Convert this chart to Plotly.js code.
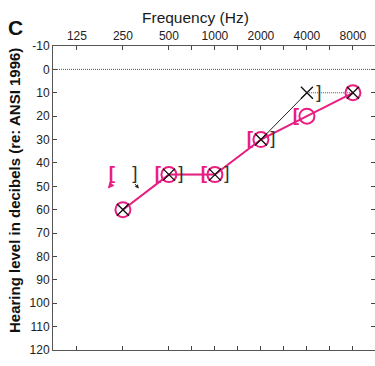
<!DOCTYPE html>
<html><head><meta charset="utf-8">
<script src="https://cdn.plot.ly/plotly-3.0.1.min.js"></script>
<style>html,body{margin:0;padding:0;background:#fff;}#chart{width:375px;height:366px;}</style>
</head><body><div id="chart"></div>
<script>
// Frequencies (octave index positions) and labels
const freqLabels = ['125','250','500','1000','2000','4000','8000'];
const freqIdx = [0,1,2,3,4,5,6];
const minorIdx = [2.5,3.5,4.5,5.5];
// Right ear air conduction (O)
const rightFreq = [1,2,3,4,5,6];
const rightAC = [60,45,45,30,20,10];
// Left ear air conduction (X)
const leftFreq = [1,2,3,4,5,6];
const leftAC = [60,45,45,30,10,10];
// Right ear masked bone conduction "["
const rightBoneFreq = [1,2,3,4,5];
const rightBone = [45,45,45,30,20];
// Left ear masked bone conduction "]"
const leftBoneFreq = [1,2,3,4,5];
const leftBone = [45,45,45,30,10];
// No-response flags (arrows) for bone conduction
const rightBoneNR = [true,false,false,false,false];
const leftBoneNR = [true,false,false,false,false];
const dbTicks = [-10,0,10,20,30,40,50,60,70,80,90,100,110,120];
const dbLabels = ['-10','0','10','20','30','40','50','60','70','80','90','100','110','120'];

const PINK = '#e91e80';
const FONT = 'Liberation Sans, Arial, sans-serif';
const bOffL = -0.24, bOffR = 0.26;

const traces = [
  {x: leftFreq.slice(0,5), y: leftAC.slice(0,5), mode:'lines', line:{color:'#222', width:1}, hoverinfo:'skip'},
  {x: leftFreq.slice(4), y: leftAC.slice(4), mode:'lines', line:{color:'#555', width:1, dash:'1px,1px'}, hoverinfo:'skip'},
  {x: rightFreq, y: rightAC, mode:'lines+markers', line:{color:PINK, width:2},
   marker:{symbol:'circle-open', size:15, color:PINK, line:{width:2, color:PINK}}},
  {x: leftFreq, y: leftAC, mode:'markers',
   marker:{symbol:'x-thin-open', size:12, color:'#111', line:{width:1.3, color:'#111'}}},
  {x: rightBoneFreq.map(f=>f+bOffL), y: rightBone, mode:'text', text: rightBone.map(()=>'<b>[</b>'),
   textfont:{family:FONT, size:19, color:PINK}, textposition:'middle center'},
  {x: leftBoneFreq.map(f=>f+bOffR), y: leftBone, mode:'text', text: leftBone.map(()=>']'),
   textfont:{family:FONT, size:19, color:'#333'}, textposition:'middle center'}
];

const annotations = [
  {text:'Frequency (Hz)', xref:'paper', yref:'paper', x:0.444, y:1.095, showarrow:false,
   xanchor:'center', yanchor:'middle', font:{family:FONT, size:15.5, color:'#1a1a1a'}},
  {text:'<b>C</b>', xref:'paper', yref:'paper', x:-0.118, y:1.06, showarrow:false,
   xanchor:'center', yanchor:'middle', font:{family:FONT, size:21, color:'#111'}},
  {text:'<b>Hearing level in decibels (re: ANSI 1996)</b>', xref:'paper', yref:'paper', x:-0.121, y:0.523,
   textangle:-90, showarrow:false, xanchor:'center', yanchor:'middle', font:{family:FONT, size:15, color:'#111'}}
];
rightBoneFreq.forEach((f,i)=>{ if(rightBoneNR[i]) annotations.push({x:f+bOffL, y:rightBone[i], xref:'x', yref:'y',
  xshift:-4, yshift:-14, ax:5, ay:-6, showarrow:true, arrowhead:2, arrowsize:0.8, arrowwidth:1.6, arrowcolor:PINK, text:''}); });
leftBoneFreq.forEach((f,i)=>{ if(leftBoneNR[i]) annotations.push({x:f+bOffR, y:leftBone[i], xref:'x', yref:'y',
  xshift:4, yshift:-14, ax:-5, ay:-6, showarrow:true, arrowhead:2, arrowsize:0.8, arrowwidth:1, arrowcolor:'#222', text:''}); });

const layout = {
  width:375, height:366, margin:{l:53, r:0, t:46, b:16},
  paper_bgcolor:'#fff', plot_bgcolor:'#fff', showlegend:false,
  font:{family:FONT, size:12, color:'#222'},
  xaxis:{range:[-0.52,6.48], side:'top', tickvals: freqIdx.concat(minorIdx),
    ticktext: freqLabels.concat(minorIdx.map(()=> '')), ticks:'inside', ticklen:4, tickcolor:'#444',
    showline:true, linecolor:'#555', linewidth:1, mirror:'allticks', showgrid:false, zeroline:false,
    tickfont:{family:FONT, size:12, color:'#222'}},
  yaxis:{range:[120,-10], tickvals: dbTicks, ticktext: dbLabels, ticks:'inside', ticklen:4, tickcolor:'#444',
    showline:true, linecolor:'#555', linewidth:1, mirror:'allticks', showgrid:false, zeroline:false,
    tickfont:{family:FONT, size:12, color:'#222'}},
  shapes:[{type:'line', xref:'paper', yref:'y', x0:0, x1:1, y0:0, y1:0, line:{color:'#555', width:1, dash:'1px,1px'}}],
  annotations: annotations
};
Plotly.newPlot('chart', traces, layout, {staticPlot:true, displayModeBar:false});
</script></body></html>
